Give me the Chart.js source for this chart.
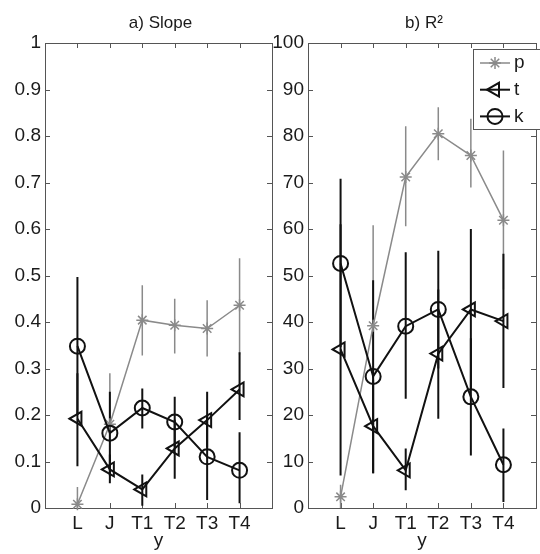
<!DOCTYPE html>
<html>
<head>
<meta charset="utf-8">
<script src="https://cdn.jsdelivr.net/npm/chart.js@4.4.0/dist/chart.umd.min.js"></script>
<style>
    html, body { margin: 0; padding: 0; background: #fff; overflow: hidden; }
    #wrap { position: relative; width: 540px; height: 554px; overflow: hidden; }
    #slopeChart { position: absolute; left: 0; top: 0; }
    #r2Chart { position: absolute; left: 270px; top: 0; }
</style>
</head>
<body>
<div id="wrap">
    <canvas id="slopeChart" width="282" height="554"></canvas>
    <canvas id="r2Chart" width="276" height="554"></canvas>
</div>
<script>
const categories = ['L', 'J', 'T1', 'T2', 'T3', 'T4'];
const seriesNames = ['p', 't', 'k'];

// a) Slope
const slopeP = [0.008, 0.18, 0.404, 0.393, 0.386, 0.436];
const slopePLow = [0.0, 0.06, 0.328, 0.332, 0.326, 0.33];
const slopePHigh = [0.045, 0.29, 0.479, 0.45, 0.447, 0.537];
const slopeT = [0.192, 0.083, 0.04, 0.128, 0.189, 0.255];
const slopeTLow = [0.09, 0.053, 0.005, 0.063, 0.13, 0.189];
const slopeTHigh = [0.29, 0.115, 0.072, 0.19, 0.25, 0.335];
const slopeK = [0.348, 0.161, 0.215, 0.185, 0.11, 0.081];
const slopeKLow = [0.2, 0.07, 0.171, 0.13, 0.017, 0.01];
const slopeKHigh = [0.497, 0.25, 0.257, 0.239, 0.2, 0.163];

// b) R^2
const r2P = [2.4, 39.2, 71.2, 80.5, 75.8, 61.9];
const r2PLow = [0, 18, 60.6, 74.8, 68.9, 47];
const r2PHigh = [5, 60.8, 82.1, 86.2, 83.7, 76.9];
const r2T = [34.1, 17.6, 8.1, 33.2, 42.7, 40.2];
const r2TLow = [7, 7.5, 3.8, 19.2, 25.4, 25.8];
const r2THigh = [61, 27.6, 12.8, 47, 60, 54.7];
const r2K = [52.6, 28.3, 39.1, 42.7, 23.9, 9.3];
const r2KLow = [34.6, 7.5, 23.5, 30, 11.3, 1.3];
const r2KHigh = [70.8, 49, 55, 55.3, 36.5, 17.1];

const FONT = "'Liberation Sans', Arial, Helvetica, sans-serif";
const TEXT_COLOR = '#1a1a1a';
const AXIS_COLOR = '#555';

const seriesStyle = {
    p: { color: '#8a8a8a', width: 1.5, marker: 'star', rotation: 0, radius: 6, order: 3 },
    t: { color: '#111', width: 2, marker: 'triangle', rotation: -90, radius: 8, order: 2 },
    k: { color: '#111', width: 2, marker: 'circle', rotation: 0, radius: 7.5, order: 1 }
};

function makeDataset(name, values, low, high) {
    const style = seriesStyle[name];
    return {
        label: name,
        data: values.map((v, i) => ({ x: i + 1, y: v })),
        low: low,
        high: high,
        borderColor: style.color,
        borderWidth: style.width,
        pointStyle: style.marker,
        pointRotation: style.rotation,
        pointRadius: style.radius,
        pointBorderWidth: style.width,
        pointBorderColor: style.color,
        pointBackgroundColor: 'transparent',
        tension: 0,
        clip: false,
        order: style.order
    };
}

function drawMarker(ctx, style, x, y) {
    const r = style.radius;
    ctx.save();
    ctx.strokeStyle = style.color;
    ctx.lineWidth = style.width;
    ctx.beginPath();
    if (style.marker === 'circle') {
        ctx.arc(x, y, r, 0, Math.PI * 2);
    } else if (style.marker === 'triangle') {
        ctx.moveTo(x - r, y);
        ctx.lineTo(x + r / 2, y - r * 0.866);
        ctx.lineTo(x + r / 2, y + r * 0.866);
        ctx.closePath();
    } else {
        const d = r * 0.707;
        ctx.moveTo(x - r, y); ctx.lineTo(x + r, y);
        ctx.moveTo(x, y - r); ctx.lineTo(x, y + r);
        ctx.moveTo(x - d, y - d); ctx.lineTo(x + d, y + d);
        ctx.moveTo(x - d, y + d); ctx.lineTo(x + d, y - d);
    }
    ctx.stroke();
    ctx.restore();
}

// axes box with inward ticks, panel title and error bars
function panelPlugin(title, showLegend) {
    return {
        id: 'panel',
        beforeDatasetsDraw(chart) {
            const ctx = chart.ctx;
            const area = chart.chartArea;
            const xs = chart.scales.x;
            const ys = chart.scales.y;

            ctx.save();
            ctx.strokeStyle = AXIS_COLOR;
            ctx.lineWidth = 1;
            ctx.strokeRect(Math.round(area.left) + 0.5, Math.round(area.top) + 0.5,
                Math.round(area.right - area.left), Math.round(area.bottom - area.top));
            ctx.beginPath();
            for (let i = 1; i <= categories.length; i++) {
                const px = Math.round(xs.getPixelForValue(i)) + 0.5;
                ctx.moveTo(px, area.bottom); ctx.lineTo(px, area.bottom - 5);
                ctx.moveTo(px, area.top); ctx.lineTo(px, area.top + 5);
            }
            ys.ticks.forEach(t => {
                const py = Math.round(ys.getPixelForValue(t.value)) + 0.5;
                ctx.moveTo(area.left, py); ctx.lineTo(area.left + 5, py);
                ctx.moveTo(area.right, py); ctx.lineTo(area.right - 5, py);
            });
            ctx.stroke();

            // error bars, grey series first
            chart.data.datasets.slice().sort((a, b) => b.order - a.order).forEach(ds => {
                ctx.strokeStyle = ds.borderColor;
                ctx.lineWidth = ds.borderWidth;
                ctx.beginPath();
                ds.data.forEach((pt, i) => {
                    const px = xs.getPixelForValue(pt.x);
                    ctx.moveTo(px, ys.getPixelForValue(ds.low[i]));
                    ctx.lineTo(px, ys.getPixelForValue(ds.high[i]));
                });
                ctx.stroke();
            });
            ctx.restore();
        },
        afterDraw(chart) {
            const ctx = chart.ctx;
            const area = chart.chartArea;
            ctx.save();
            ctx.fillStyle = TEXT_COLOR;
            ctx.font = '17px ' + FONT;
            ctx.textAlign = 'center';
            ctx.textBaseline = 'middle';
            ctx.fillText(title, (area.left + area.right) / 2 + 2, 23);

            if (showLegend) {
                const x0 = area.right - 63;
                const y0 = area.top + 6;
                ctx.fillStyle = '#fff';
                ctx.fillRect(x0, y0, 70, 80);
                ctx.strokeStyle = AXIS_COLOR;
                ctx.lineWidth = 1;
                ctx.strokeRect(Math.round(x0) + 0.5, Math.round(y0) + 0.5, 70, 80);
                ctx.font = '19px ' + FONT;
                ctx.textAlign = 'left';
                seriesNames.forEach((name, j) => {
                    const style = seriesStyle[name];
                    const y = y0 + 14 + j * 26.7;
                    ctx.strokeStyle = style.color;
                    ctx.lineWidth = style.width;
                    ctx.beginPath();
                    ctx.moveTo(x0 + 7, y);
                    ctx.lineTo(x0 + 37, y);
                    ctx.stroke();
                    drawMarker(ctx, style, x0 + 22, y);
                    ctx.fillStyle = TEXT_COLOR;
                    ctx.fillText(name, x0 + 41, y);
                });
            }
            ctx.restore();
        }
    };
}

function makeChart(id, title, datasets, yMax, yStep, yWidth, padRight, showLegend) {
    const ctx = document.getElementById(id).getContext('2d');
    return new Chart(ctx, {
        type: 'line',
        data: { datasets: datasets },
        options: {
            responsive: false,
            animation: false,
            layout: { padding: { top: 43, right: padRight, bottom: 0, left: 0 } },
            plugins: {
                legend: { display: false },
                tooltip: { enabled: false }
            },
            scales: {
                x: {
                    type: 'linear',
                    min: 0,
                    max: categories.length + 1,
                    grid: { display: false, drawTicks: false },
                    border: { display: false },
                    ticks: {
                        stepSize: 1,
                        autoSkip: false,
                        maxRotation: 0,
                        padding: 4,
                        color: TEXT_COLOR,
                        font: { size: 19, family: FONT },
                        callback: value => categories[value - 1] || ''
                    },
                    title: {
                        display: true,
                        text: 'y',
                        color: TEXT_COLOR,
                        font: { size: 19, family: FONT },
                        padding: { top: 0, bottom: 2 }
                    },
                    afterFit: scale => { scale.height = 46; }
                },
                y: {
                    min: 0,
                    max: yMax,
                    grid: { display: false, drawTicks: false },
                    border: { display: false },
                    ticks: {
                        stepSize: yStep,
                        padding: 4,
                        color: TEXT_COLOR,
                        font: { size: 19, family: FONT },
                        callback: value => String(Math.round(value * 10) / 10)
                    },
                    afterFit: scale => { scale.width = yWidth; }
                }
            }
        },
        plugins: [panelPlugin(title, showLegend)]
    });
}

makeChart('slopeChart', 'a) Slope', [
    makeDataset('p', slopeP, slopePLow, slopePHigh),
    makeDataset('t', slopeT, slopeTLow, slopeTHigh),
    makeDataset('k', slopeK, slopeKLow, slopeKHigh)
], 1, 0.1, 45, 4, false);

makeChart('r2Chart', 'b) R²', [
    makeDataset('p', r2P, r2PLow, r2PHigh),
    makeDataset('t', r2T, r2TLow, r2THigh),
    makeDataset('k', r2K, r2KLow, r2KHigh)
], 100, 10, 38, 5, true);
</script>
</body>
</html>
